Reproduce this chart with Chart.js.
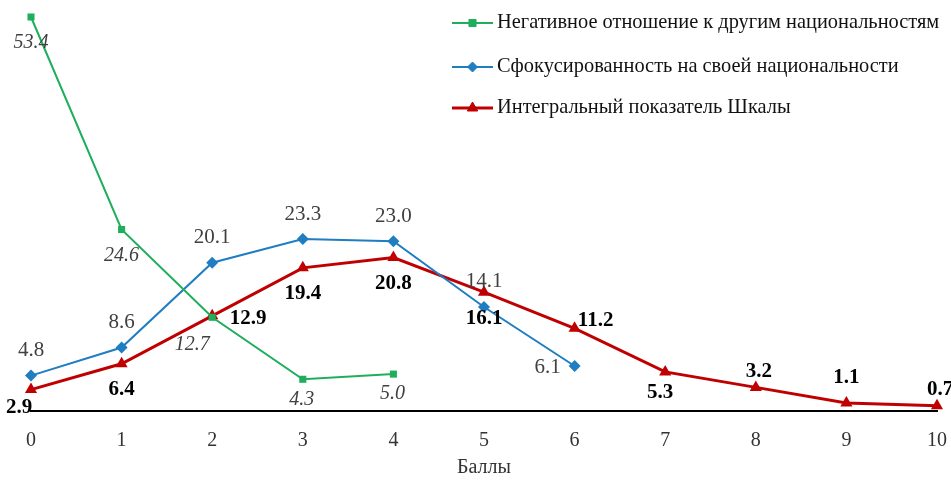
<!DOCTYPE html>
<html>
<head>
<meta charset="utf-8">
<script src="https://cdn.jsdelivr.net/npm/chart.js@4"></script>
<style>
  html, body { margin: 0; padding: 0; background: #fff; }
  #wrap { width: 951px; height: 480px; }
</style>
</head>
<body>
<div id="wrap"><canvas id="myChart"></canvas></div>
<script>
// categories (баллы)
let labels = ['0', '1', '2', '3', '4', '5', '6', '7', '8', '9', '10'];

// series
let negName = 'Негативное отношение к другим национальностям';
let negData = [53.4, 24.6, 12.7, 4.3, 5.0];
let focName = 'Сфокусированность на своей национальности';
let focData = [4.8, 8.6, 20.1, 23.3, 23.0, 14.1, 6.1];
let intName = 'Интегральный показатель Шкалы';
let intData = [2.9, 6.4, 12.9, 19.4, 20.8, 16.1, 11.2, 5.3, 3.2, 1.1, 0.7];

// where each value label sits relative to its point
let negLabelPos = ['below', 'below', 'belowLeft', 'belowNear', 'belowNear'];
let focLabelPos = ['above', 'above', 'above', 'above', 'above', 'above', 'left'];
let intLabelPos = ['cornerLeft', 'below', 'right', 'below', 'below', 'below', 'upRight', 'belowShort', 'up', 'above', 'up'];

const FONT = '"Liberation Serif", "Times New Roman", serif';
const GREEN = '#1FAE5B';
const BLUE = '#1F7DC2';
const RED = '#C00000';

const offsets = {
    above: [0, -25],
    up: [3, -16],
    below: [0, 26],
    belowNear: [-1, 20],
    belowShort: [-5, 21],
    belowLeft: [-20, 27],
    cornerLeft: [-12, 18],
    left: [-27, 1],
    right: [36, 3],
    upRight: [21, -8]
};

// value labels drawn next to the points
const valueLabels = {
    id: 'valueLabels',
    afterDatasetsDraw(chart) {
        let ctx = chart.ctx;
        chart.data.datasets.forEach((ds, i) => {
            let meta = chart.getDatasetMeta(i);
            ctx.save();
            ctx.font = ds.labelFont;
            ctx.fillStyle = ds.labelColor;
            ctx.textAlign = 'center';
            ctx.textBaseline = 'middle';
            meta.data.forEach((pt, j) => {
                let off = offsets[ds.labelPos[j]];
                ctx.fillText(ds.data[j].toFixed(1), pt.x + off[0], pt.y + off[1]);
            });
            ctx.restore();
        });
    }
};

// legend in the top right corner, one row per series
const cornerLegend = {
    id: 'cornerLegend',
    afterDraw(chart) {
        let ctx = chart.ctx;
        let x0 = 452, x1 = 493;
        let rows = [23, 67, 108];
        chart.data.datasets.forEach((ds, i) => {
            let y = rows[i];
            ctx.save();
            ctx.strokeStyle = ds.borderColor;
            ctx.lineWidth = ds.borderWidth;
            ctx.beginPath();
            ctx.moveTo(x0, y);
            ctx.lineTo(x1, y);
            ctx.stroke();
            ctx.fillStyle = ds.borderColor;
            ctx.lineWidth = 1;
            Chart.helpers.drawPoint(ctx, {
                pointStyle: ds.pointStyle,
                radius: ds.pointStyle === 'triangle' ? 6 : 5,
                rotation: 0,
                borderWidth: 1
            }, (x0 + x1) / 2, y);
            ctx.fillStyle = '#111';
            ctx.font = '20.4px ' + FONT;
            ctx.textAlign = 'left';
            ctx.textBaseline = 'middle';
            ctx.fillText(ds.label, 497, y);
            ctx.restore();
        });
    }
};

let config = {
    type: 'line',
    data: {
        labels: labels,
        datasets: [{
            label: negName,
            data: negData,
            borderColor: GREEN,
            backgroundColor: GREEN,
            borderWidth: 2,
            pointStyle: 'rect',
            pointRadius: 5,
            pointBorderWidth: 0,
            clip: false,
            labelPos: negLabelPos,
            labelFont: 'italic 20px ' + FONT,
            labelColor: '#404040'
        }, {
            label: focName,
            data: focData,
            borderColor: BLUE,
            backgroundColor: BLUE,
            borderWidth: 2,
            pointStyle: 'rectRot',
            pointRadius: 6,
            pointBorderWidth: 0,
            clip: false,
            labelPos: focLabelPos,
            labelFont: '21px ' + FONT,
            labelColor: '#404040'
        }, {
            label: intName,
            data: intData,
            borderColor: RED,
            backgroundColor: RED,
            borderWidth: 3,
            pointStyle: 'triangle',
            pointRadius: 7,
            pointBorderWidth: 0,
            clip: false,
            labelPos: intLabelPos,
            labelFont: 'bold 21px ' + FONT,
            labelColor: '#000'
        }]
    },
    options: {
        responsive: true,
        maintainAspectRatio: false,
        animation: false,
        layout: {
            padding: { left: 31, right: 14, top: 17, bottom: 0 }
        },
        plugins: {
            legend: { display: false },
            tooltip: { enabled: false }
        },
        scales: {
            x: {
                grid: { display: false, drawTicks: false },
                border: { display: true, color: '#000', width: 2 },
                ticks: {
                    color: '#333',
                    padding: 18,
                    font: { family: FONT, size: 20 },
                    maxRotation: 0
                },
                title: {
                    display: true,
                    text: 'Баллы',
                    color: '#333',
                    font: { family: FONT, size: 20 },
                    padding: { top: -15, bottom: 0 }
                },
                afterFit: function(scale) {
                    scale.paddingLeft = 0;
                    scale.paddingRight = 0;
                }
            },
            y: {
                display: false,
                min: 0,
                max: 53.4
            }
        }
    },
    plugins: [valueLabels, cornerLegend]
};

let myChart = new Chart(document.getElementById('myChart').getContext('2d'), config);
</script>
</body>
</html>
